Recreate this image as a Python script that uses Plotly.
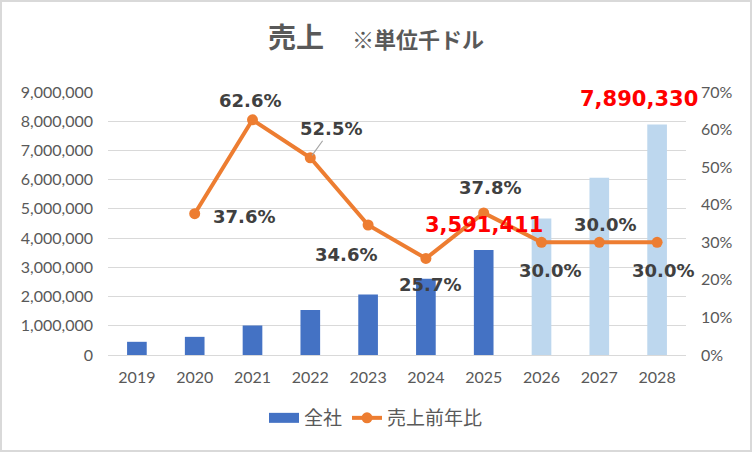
import plotly.graph_objects as go

years = ["2019", "2020", "2021", "2022", "2023", "2024", "2025", "2026", "2027", "2028"]
sales = [451467, 621218, 1010101, 1540404, 2073387, 2606248, 3591411, 4668834, 6069484, 7890330]
growth = [None, 37.6, 62.6, 52.5, 34.6, 25.7, 37.8, 30.0, 30.0, 30.0]
forecast = [False, False, False, False, False, False, False, True, True, True]
highlight_years = ["2025", "2028"]

bar_colors = ["#BDD7EE" if f else "#4472C4" for f in forecast]
# pixel offsets of the percent labels from their points
label_dx = [0, 49, -3, 21, -22, 4, 6, 8, 6, 6]
label_dy = [0, -3, 19, 29, -29, -26, 25, -28, 18, -28]

font_family = "Lato, 'Noto Sans CJK JP', sans-serif"
label_family = "'DejaVu Sans', 'Noto Sans CJK JP', sans-serif"
grey = "#595959"

fig = go.Figure()
fig.add_trace(go.Bar(
    x=years, y=sales, name="全社",
    marker=dict(color=bar_colors, line=dict(width=0)),
    yaxis="y", showlegend=False,
))
# legend entry drawn as a wide block, like the original chart
fig.add_trace(go.Scatter(
    x=[years[0]], y=[None], name="全社", mode="lines",
    line=dict(color="#4472C4", width=10), yaxis="y",
))
fig.add_trace(go.Scatter(
    x=years, y=growth, name="売上前年比",
    mode="lines+markers",
    line=dict(color="#ED7D31", width=4),
    marker=dict(color="#ED7D31", size=11),
    yaxis="y2",
))

annotations = []
for i, g in enumerate(growth):
    if g is None:
        continue
    arrow = years[i] == "2022"
    annotations.append(dict(
        x=i, y=g, xref="x", yref="y2",
        text=f"<b>{g:.1f}%</b>",
        font=dict(size=18, color="#404040", family=label_family),
        showarrow=arrow,
        ax=label_dx[i], ay=-label_dy[i] if arrow else 0,
        arrowhead=0, arrowwidth=1.2, arrowcolor="#A6A6A6", standoff=3,
        xshift=0 if arrow else label_dx[i],
        yshift=0 if arrow else label_dy[i],
    ))

for yr, dx in zip(highlight_years, [0, -18]):
    i = years.index(yr)
    annotations.append(dict(
        x=i, y=sales[i], xref="x", yref="y",
        text=f"<b>{sales[i]:,}</b>",
        font=dict(size=21, color="#FF0000", family=label_family),
        showarrow=False, xshift=dx, yshift=25,
    ))

fig.update_layout(
    width=752, height=452,
    margin=dict(l=108, r=66, t=92, b=97),
    plot_bgcolor="white", paper_bgcolor="white",
    font=dict(family=font_family, color=grey),
    title=dict(
        text="<b><span style='font-size:28px'>売上　</span><span style='font-size:22px'>※単位千ドル</span></b>",
        x=0.5, xanchor="center", y=1 - 42 / 452, yanchor="middle",
        font=dict(color=grey, family=font_family),
    ),
    bargap=0.66,
    showlegend=True,
    legend=dict(
        orientation="h", xref="container", x=0.5, xanchor="center",
        yref="container", y=1 - 418 / 452, yanchor="middle",
        font=dict(size=19, color=grey),
        traceorder="normal",
    ),
    xaxis=dict(
        type="category", range=[-0.5, len(years) - 0.5],
        showgrid=False, showline=True, linecolor="#D9D9D9", linewidth=1,
        ticks="", tickfont=dict(size=16, color=grey), ticklabelstandoff=8,
    ),
    yaxis=dict(
        range=[0, 9000000], dtick=1000000, tickformat=",d",
        showgrid=True, gridcolor="#D9D9D9", gridwidth=1.3, zeroline=False,
        tickfont=dict(size=16, color=grey), ticklabelstandoff=14,
    ),
    yaxis2=dict(
        overlaying="y", side="right", range=[0, 70], dtick=10, ticksuffix="%",
        showgrid=False, zeroline=False,
        tickfont=dict(size=16, color=grey), ticklabelstandoff=14,
    ),
    annotations=annotations,
    shapes=[dict(
        type="rect", xref="paper", yref="paper", layer="below",
        x0=-107 / 578, x1=1 + 65 / 578, y0=-96 / 263, y1=1 + 91 / 263,
        line=dict(color="#D9D9D9", width=2), fillcolor="rgba(0,0,0,0)",
    )],
)

fig.write_html(
    "out.html",
    config={"displayModeBar": False},
    post_script="document.body.style.margin='0';",
)
